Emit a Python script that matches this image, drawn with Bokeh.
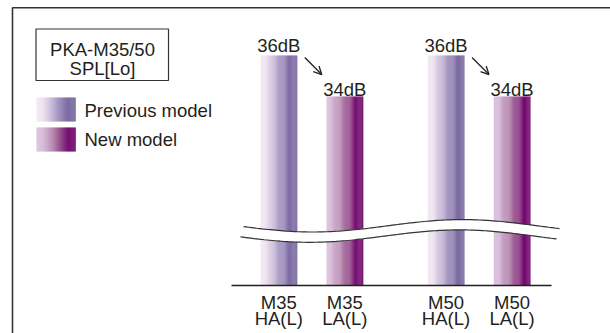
import numpy as np
from bokeh.plotting import figure
from bokeh.models import Range1d, Arrow, OpenHead
from bokeh.core.properties import value
from bokeh.embed import file_html
from bokeh.resources import INLINE

# ---- data ----
models = ["M35", "M50"]
prev_type = "HA(L)"
new_type = "LA(L)"
prev_db = [36, 36]
new_db = [34, 34]
prev_label = ["36dB", "36dB"]
new_label = ["34dB", "34dB"]
legend_title = ["PKA-M35/50", "SPL[Lo]"]
legend_names = ["Previous model", "New model"]

# ---- style / layout ----
FONT = value("Liberation Sans")
FS = "18.5px"
TXT = "#231f20"
LINE = "#333333"
W, H = 610, 333
BASE_PX = 285.0          # page y of the baseline
PX_PER_DB = 20.5
BASE_DB = 36 - (BASE_PX - 55) / PX_PER_DB
ylo = BASE_DB - (H - BASE_PX) / PX_PER_DB
yhi = BASE_DB + BASE_PX / PX_PER_DB

FIRST_CENTER = 278.3
PAIR_GAP = 66.0
GROUP_GAP = 167.2
BAR_W = 36.5

prev_stops = [(0.0, "#f2e7f2"), (0.15, "#eee2ef"), (0.5, "#b0a0c8"), (0.8, "#7c6ba2"), (1.0, "#7a69a0")]
new_stops = [(0.0, "#dac0dc"), (0.15, "#d5b6d6"), (0.5, "#a8729f"), (0.82, "#740c70"), (1.0, "#710a6c")]


def hex2rgb(h):
    h = h.lstrip("#")
    return np.array([int(h[i:i + 2], 16) for i in (0, 2, 4)], dtype=float)


def grad(stops, t):
    ts = [s[0] for s in stops]
    cs = [hex2rgb(s[1]) for s in stops]
    for i in range(len(ts) - 1):
        if ts[i] <= t <= ts[i + 1]:
            f = (t - ts[i]) / (ts[i + 1] - ts[i])
            c = cs[i] * (1 - f) + cs[i + 1] * f
            return "#%02x%02x%02x" % tuple(int(round(v)) for v in c)
    return stops[-1][1]


p = figure(width=W, height=H, x_range=Range1d(0, W), y_range=Range1d(ylo, yhi),
           x_axis_type=None, y_axis_type=None, output_backend="svg",
           toolbar_location=None, min_border=0)
p.grid.visible = False
p.outline_line_color = None
p.background_fill_color = "white"
p.extra_y_ranges = {"px": Range1d(H, 0)}

N = 40


def gradient_quads(center, top, bottom, width, stops):
    left = center - width / 2
    ls, rs, cs = [], [], []
    for i in range(N):
        t = (i + 0.5) / N
        ls.append(left + width * i / N)
        rs.append(left + width * (i + 1) / N + 0.3)
        cs.append(grad(stops, t))
    p.quad(left=ls, right=rs, top=[top] * N, bottom=[bottom] * N,
           fill_color=cs, line_color=None)


prev_x, new_x = [], []
for gi, m in enumerate(models):
    cp = FIRST_CENTER + gi * GROUP_GAP
    cn = cp + PAIR_GAP
    prev_x.append(cp)
    new_x.append(cn)
    gradient_quads(cp, prev_db[gi], BASE_DB, BAR_W, prev_stops)
    gradient_quads(cn, new_db[gi], BASE_DB, BAR_W, new_stops)

# value labels (gap above the bar, in dB units)
PREV_GAP = 10 / PX_PER_DB
NEW_GAP = 7 / PX_PER_DB
p.text(x=prev_x, y=[v + PREV_GAP for v in prev_db], text=prev_label, text_font=FONT,
       text_font_size=FS, text_color=TXT, text_align="center", text_baseline="alphabetic")
p.text(x=new_x, y=[v + NEW_GAP for v in new_db], text=new_label, text_font=FONT,
       text_font_size=FS, text_color=TXT, text_align="center", text_baseline="alphabetic")

# arrows
for gi in range(len(models)):
    p.add_layout(Arrow(x_start=prev_x[gi] + 26, y_start=prev_db[gi] - 0.1,
                       x_end=new_x[gi] - 23, y_end=new_db[gi] + 1.07,
                       line_color=TXT, line_width=1.3,
                       end=OpenHead(size=8, line_color=TXT, line_width=1.3)))

# axis break band
xs = np.linspace(241, 557, 120)
y_up = 225.3 + 6.2 * np.sin(2 * np.pi * (xs - 235) / 300)
y_lo = y_up + 10.3
p.patch(x=np.concatenate([xs, xs[::-1]]), y=np.concatenate([y_up, y_lo[::-1]]),
        fill_color="white", line_color=None, y_range_name="px")
p.line(x=xs + 2, y=y_up, line_color=LINE, line_width=1.2, y_range_name="px")
p.line(x=xs - 1, y=y_lo, line_color=LINE, line_width=1.2, y_range_name="px")

# baseline
p.segment(x0=[231], y0=[BASE_DB], x1=[551], y1=[BASE_DB], line_color=TXT, line_width=1.5)

# category labels
p.text(x=prev_x + new_x, y=[302] * 4, text=models + models, text_font=FONT,
       text_font_size=FS, text_color=TXT, text_align="center",
       text_baseline="alphabetic", y_range_name="px")
p.text(x=prev_x + new_x, y=[318] * 4, text=[prev_type] * 2 + [new_type] * 2,
       text_font=FONT, text_font_size=FS, text_color=TXT, text_align="center",
       text_baseline="alphabetic", y_range_name="px")

# outer frame (left and top)
p.line(x=[12, 12, W], y=[H, 7.2, 7.2], line_color=LINE, line_width=1.6,
       y_range_name="px")

# legend title box
p.quad(left=[35.5], right=[168], top=[28.5], bottom=[80], fill_color=None,
       line_color=LINE, line_width=1.2, y_range_name="px")
p.text(x=[102, 102], y=[48.5, 67.5], text=legend_title, text_font=FONT,
       text_font_size=FS, text_color=TXT, text_align="center",
       text_baseline="alphabetic", y_range_name="px")

# legend swatches
sw_left, sw_right = 36, 75
for i, (stops, ytop) in enumerate([(prev_stops, 97), (new_stops, 127)]):
    ls, rs, cs = [], [], []
    for k in range(N):
        t = (k + 0.5) / N
        ls.append(sw_left + (sw_right - sw_left) * k / N)
        rs.append(sw_left + (sw_right - sw_left) * (k + 1) / N + 0.3)
        cs.append(grad(stops, t))
    p.quad(left=ls, right=rs, top=[ytop] * N, bottom=[ytop + 24] * N,
           fill_color=cs, line_color=None, y_range_name="px")
p.text(x=[84, 84], y=[109.5, 139], text=legend_names, text_font=FONT,
       text_font_size=FS, text_color=TXT, text_align="left",
       text_baseline="middle", y_range_name="px")

open("out.html", "w").write(file_html(p, INLINE))
